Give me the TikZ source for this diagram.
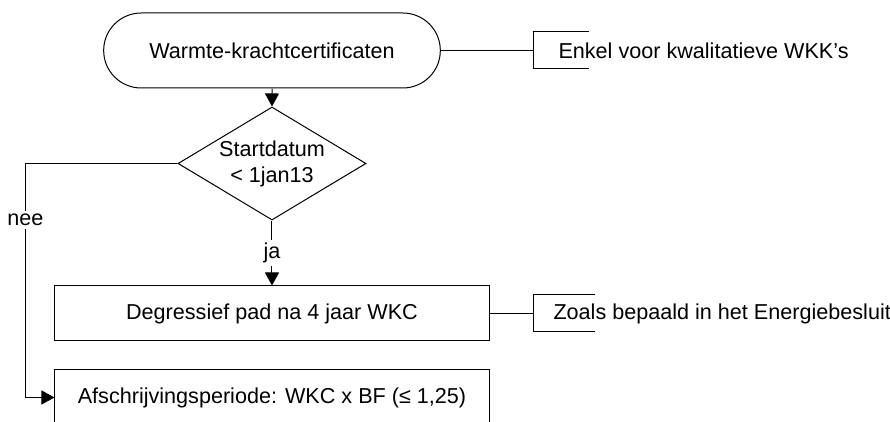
\documentclass[tikz,border=0pt]{standalone}
\usepackage{fontspec}
\setmainfont{Liberation Sans}
\usetikzlibrary{positioning,shapes.geometric,shapes.misc,arrows.meta}

\begin{document}
\begin{tikzpicture}[node distance=2cm,on grid,line width=0.5pt,
    font=\fontsize{10.8}{13}\selectfont,
    >={Triangle[length=6.5pt,width=7pt]},
    term/.style={draw,rounded rectangle,minimum width=175pt,minimum height=37.5pt},
    decision/.style={draw,diamond,aspect=1.66,inner sep=0pt,minimum width=94pt,minimum height=56.5pt,align=center},
    proc/.style={draw,rectangle,minimum width=217pt,minimum height=27.5pt},
    note/.style={anchor=west,minimum height=18pt,inner xsep=12.5pt},
    lbl/.style={fill=white,inner sep=1.5pt}]
    \useasboundingbox (-136pt,25.25pt) rectangle (309pt,-185.75pt);
    \node[term] (wkc)                                  {Warmte-krachtcertificaten};
    \node[decision] (datum)  [below=56.5pt of wkc]      {Startdatum\\< 1jan13};
    \node[proc] (degr)       [below=75pt of datum]      {Degressief pad na 4 jaar WKC};
    \node[proc] (afschr)     [below=42pt of degr]       {Afschrijvingsperiode: WKC x BF (≤ 1,25)};
    \node[note] (kwal)       [right=130.5pt of wkc,anchor=west]  {Enkel voor kwalitatieve WKK’s};
    \node[note] (besluit)    [right=130.5pt of degr,anchor=west,inner xsep=10pt] {Zoals bepaald in het Energiebesluit};
    % brackets of the notes
    \draw ([xshift=28pt]kwal.north west) -- (kwal.north west) -- (kwal.south west) -- ++(28pt,0);
    \draw ([xshift=31pt]besluit.north west) -- (besluit.north west) -- (besluit.south west) -- ++(31pt,0);
    \path[->]
    (wkc)   edge (datum)
    (datum) edge node[lbl] {ja} (degr);
    \path
    (wkc.east)  edge (kwal.west)
    (degr.east) edge (besluit.west);
    \draw[->] (datum.west) -- ++(-76pt,0) |- node[lbl,pos=0.121] {nee} (afschr.west);
  \end{tikzpicture}
\end{document}
